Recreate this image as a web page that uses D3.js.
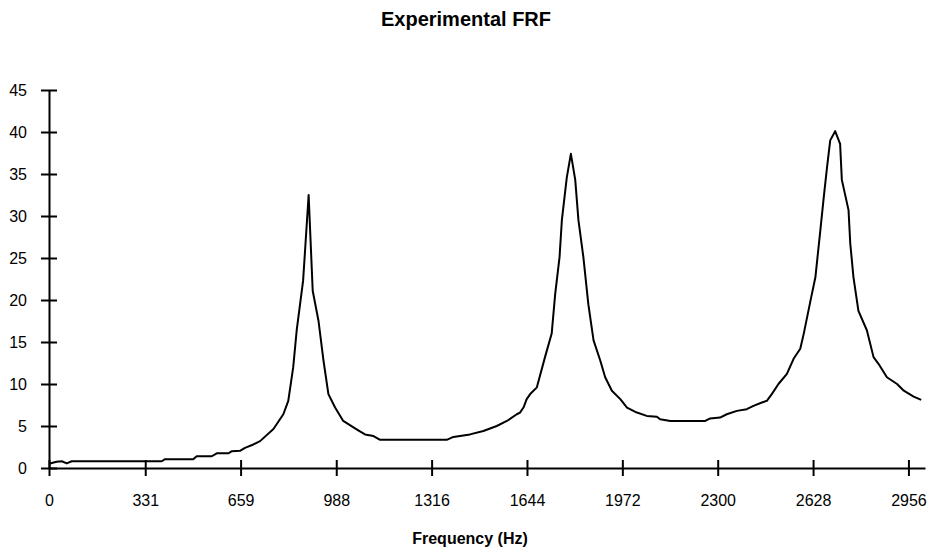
<!DOCTYPE html>
<meta charset="utf-8">
<head>
<title>Experimental FRF</title>
<script src="https://cdn.jsdelivr.net/npm/d3@7"></script>
<style>
body { margin:0; background:#fff; }
text { font-family:"Liberation Sans", Arial, sans-serif; fill:#000; }
</style>
</head>
<body>
<svg id=chart width=927 height=557></svg>
<script>
// ---- data ----
var freq = [0,26,44,61,78,388,399,496,508,560,577,617,629,657,674,703,726,772,806,823,840,852,874,893,
  907,927,944,961,984,1012,1058,1087,1116,1139,1368,1391,1448,1494,1540,1575,1609,1620,1632,1643,1655,
  1678,1706,1729,1741,1756,1764,1781,1795,1810,1821,1838,1855,1873,1896,1913,1936,1965,1988,2022,2056,
  2091,2102,2137,2257,2274,2308,2331,2366,2400,2423,2452,2469,2486,2509,2538,2561,2584,2596,2619,2636,
  2653,2665,2676,2687,2704,2721,2727,2750,2756,2767,2784,2813,2836,2853,2882,2917,2940,2974,3000]
var amp = [0.5,0.75,0.8,0.55,0.8,0.8,1.05,1.05,1.4,1.4,1.75,1.75,2.0,2.05,2.4,2.8,3.2,4.65,6.4,8.0,12.0,16.4,22.3,32.5,
  21.1,17.5,12.8,8.8,7.2,5.6,4.6,4.0,3.8,3.35,3.35,3.7,4.0,4.4,5.0,5.6,6.4,6.6,7.2,8.2,8.8,
  9.6,13.2,16.0,20.7,25.1,29.5,34.6,37.4,34.3,29.5,25.1,19.5,15.2,12.8,10.8,9.2,8.2,7.2,6.6,6.2,
  6.1,5.8,5.6,5.6,5.9,6.0,6.4,6.8,7.0,7.4,7.8,8.0,8.8,10.0,11.2,13.0,14.2,16.0,19.9,22.7,
  28.3,32.3,35.8,39.0,40.1,38.6,34.3,30.7,26.7,22.7,18.7,16.4,13.2,12.4,10.8,10.0,9.2,8.5,8.1]
var xTicks = [0,331,659,988,1316,1644,1972,2300,2628,2956]
var yTicks = [0,5,10,15,20,25,30,35,40,45]

var svg = d3.select("#chart")

var x = d3.scaleLinear().domain([0,3013]).range([49,925])
var y = d3.scaleLinear().domain([0,45]).range([468,90])

//---title---
svg.append("text")
  .attr("x",466).attr("y",26)
  .attr("text-anchor","middle")
  .attr("font-size",20).attr("font-weight","bold")
  .text("Experimental FRF")

//---x axis, ticks crossing the line---
var gx = svg.append("g")
  .attr("transform","translate(0,"+y(0)+")")
  .call(d3.axisBottom(x).tickValues(xTicks).tickFormat(d3.format("d"))
        .tickSizeInner(8).tickSizeOuter(0).tickPadding(19))
gx.selectAll(".tick line").attr("y1",-8).attr("stroke-width",2)
gx.select(".domain").attr("stroke-width",2)
gx.selectAll("text").attr("font-size",16).attr("font-family","Liberation Sans, Arial")

//---y axis---
var gy = svg.append("g")
  .attr("transform","translate("+x(0)+",0)")
  .call(d3.axisLeft(y).tickValues(yTicks)
        .tickSizeInner(8).tickSizeOuter(0).tickPadding(14))
gy.selectAll(".tick line").attr("x1",8).attr("stroke-width",2)
gy.select(".domain").attr("stroke-width",2)
gy.selectAll("text").attr("font-size",16).attr("font-family","Liberation Sans, Arial")

//---FRF curve---
var line = d3.line()
  .x(function(d,i){ return x(freq[i]) })
  .y(function(d){ return y(d) })

svg.append("path")
  .datum(amp)
  .attr("d",line)
  .attr("fill","none")
  .attr("stroke","#000")
  .attr("stroke-width",2)
  .attr("stroke-linejoin","round")

//---axis title---
svg.append("text")
  .attr("x",470).attr("y",544)
  .attr("text-anchor","middle")
  .attr("font-size",16).attr("font-weight","bold")
  .text("Frequency (Hz)")
</script>
</body>
